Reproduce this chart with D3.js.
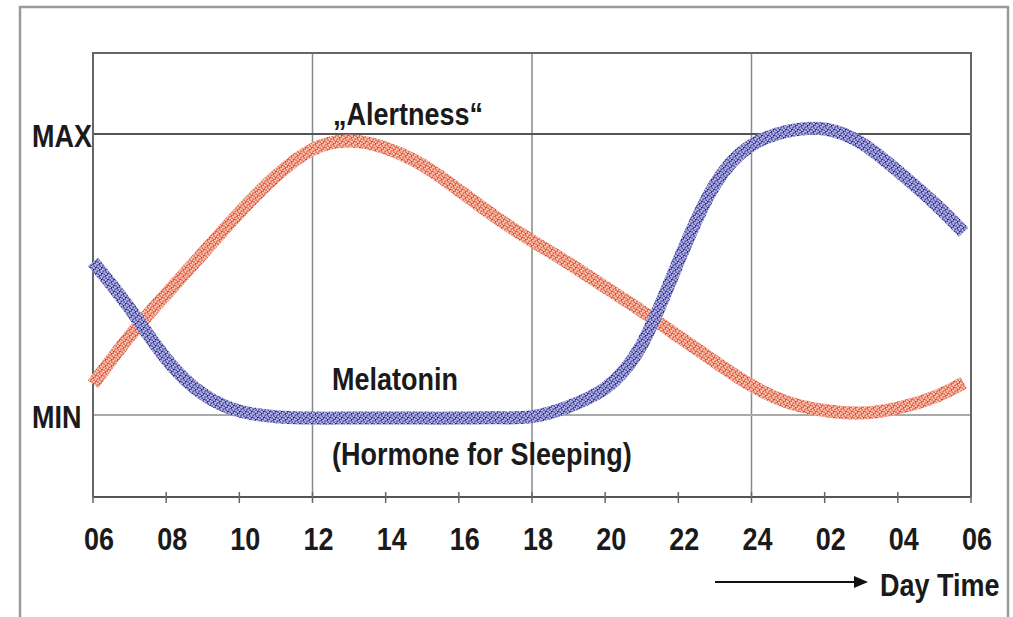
<!DOCTYPE html>
<html>
<head>
<meta charset="utf-8">
<script src="https://cdn.jsdelivr.net/npm/d3@7"></script>
<style>
  html, body { margin: 0; padding: 0; background: #fff; }
  svg { display: block; }
  text { font-family: "Liberation Sans", Arial, sans-serif; font-weight: bold; fill: #1a1a1a; }
</style>
</head>
<body>
<div id="chart"></div>
<script>
(function () {
    'use strict';

    // hours since midnight of day one (06 .. 06 next morning = 6 .. 30)
    var hours = [6, 7, 8, 9, 10, 11, 12, 13, 14, 15, 16, 17, 18, 19, 20, 21, 22, 23, 24, 25, 26, 27, 28, 29, 29.8];

    // 0 = MIN, 1 = MAX
    var alertness = [0.11, 0.28, 0.43, 0.575, 0.72, 0.85, 0.945, 0.975, 0.95, 0.89, 0.80, 0.705, 0.62, 0.54, 0.455, 0.37, 0.28, 0.19, 0.105, 0.045, 0.016, 0.007, 0.025, 0.064, 0.115];
    var melatonin = [0.545, 0.38, 0.20, 0.075, 0.014, -0.006, -0.011, -0.011, -0.011, -0.011, -0.011, -0.010, -0.006, 0.03, 0.095, 0.25, 0.545, 0.82, 0.96, 1.01, 1.018, 0.968, 0.868, 0.754, 0.65];

    var tickHours = [6, 8, 10, 12, 14, 16, 18, 20, 22, 24, 26, 28, 30];
    var tickLabels = ['06', '08', '10', '12', '14', '16', '18', '20', '22', '24', '02', '04', '06'];
    var gridHours = [12, 18, 24];
    var levels = [{ label: 'MAX', value: 1 }, { label: 'MIN', value: 0 }];

    var width = 1013, height = 617;
    var left = 93, right = 971, top = 53, bottom = 497;

    var x = d3.scaleLinear().domain([6, 30]).range([left, right]);
    var y = d3.scaleLinear().domain([0, 1]).range([415, 134]);

    var svg = d3.select('#chart').append('svg')
        .attr('width', width)
        .attr('height', height);

    // speckled stroke textures
    var defs = svg.append('defs');
    function speckle(id, light, dark) {
        var p = defs.append('pattern')
            .attr('id', id)
            .attr('patternUnits', 'userSpaceOnUse')
            .attr('width', 6).attr('height', 6);
        p.append('rect').attr('width', 6).attr('height', 6).attr('fill', light);
        [[0.5, 0.5], [3.5, 1.5], [1.5, 3.5], [4.5, 4.5], [2.5, 0], [0, 2.5], [5, 3], [3, 5]].forEach(function (c) {
            p.append('rect').attr('x', c[0]).attr('y', c[1])
                .attr('width', 1.3).attr('height', 1.3).attr('fill', dark);
        });
    }
    speckle('redDots', '#f6c2b2', '#d9401f');
    speckle('blueDots', '#b4b4e2', '#1f1f8a');

    // outer frame
    svg.append('rect')
        .attr('x', 20).attr('y', 7)
        .attr('width', 988).attr('height', 640)
        .attr('fill', 'none').attr('stroke', '#9a9a9a').attr('stroke-width', 2.5);

    // vertical grid lines
    svg.append('g').selectAll('line').data(gridHours).join('line')
        .attr('x1', function (d) { return x(d); }).attr('x2', function (d) { return x(d); })
        .attr('y1', top).attr('y2', bottom)
        .attr('stroke', '#8a8a8a').attr('stroke-width', 1.5);

    // MAX / MIN level lines
    svg.append('g').selectAll('line').data(levels).join('line')
        .attr('x1', left).attr('x2', right)
        .attr('y1', function (d) { return y(d.value); }).attr('y2', function (d) { return y(d.value); })
        .attr('stroke', function (d) { return d.value === 1 ? '#555' : '#aaa'; })
        .attr('stroke-width', 2);

    // plot box
    svg.append('path')
        .attr('d', 'M' + left + ',' + bottom + 'V' + top + 'H' + right + 'V' + bottom)
        .attr('fill', 'none').attr('stroke', '#666').attr('stroke-width', 2);

    // x axis
    var axis = svg.append('g').attr('transform', 'translate(0,' + bottom + ')');
    axis.append('line').attr('x1', left).attr('x2', right)
        .attr('stroke', '#555').attr('stroke-width', 2);
    axis.selectAll('line.tick').data(tickHours).join('line')
        .attr('class', 'tick')
        .attr('x1', function (d) { return x(d); }).attr('x2', function (d) { return x(d); })
        .attr('y1', -5).attr('y2', 6)
        .attr('stroke', '#666').attr('stroke-width', 1.5);

    function label(sel, tx, ty, txt, anchor) {
        return sel.append('text')
            .attr('transform', 'translate(' + tx + ',' + ty + ') scale(1,1.15)')
            .attr('text-anchor', anchor || 'start')
            .style('font-size', '27px')
            .text(txt);
    }

    tickHours.forEach(function (h, i) {
        label(svg, x(h) + 6, 550, tickLabels[i], 'middle');
    });

    levels.forEach(function (d) {
        label(svg, 32, y(d.value) + 13, d.label);
    });

    // curves
    var line = d3.line()
        .x(function (d) { return x(d[0]); })
        .y(function (d) { return y(d[1]); })
        .curve(d3.curveNatural);

    var series = [
        { values: alertness, fill: 'url(#redDots)' },
        { values: melatonin, fill: 'url(#blueDots)' }
    ];
    series.forEach(function (s) {
        svg.append('path')
            .datum(hours.map(function (h, i) { return [h, s.values[i]]; }))
            .attr('d', line)
            .attr('fill', 'none')
            .attr('stroke', s.fill)
            .attr('stroke-width', 13)
            .attr('stroke-linecap', 'butt');
    });

    // annotations
    label(svg, 333, 125, '\u201EAlertness\u201C');
    label(svg, 332, 390, 'Melatonin');
    label(svg, 332, 465, '(Hormone for Sleeping)');
    label(svg, 880, 596, 'Day Time');

    // Day Time arrow
    svg.append('line')
        .attr('x1', 715).attr('x2', 856).attr('y1', 582).attr('y2', 582)
        .attr('stroke', '#111').attr('stroke-width', 2);
    svg.append('path')
        .attr('d', 'M854,576L868,582L854,588Z')
        .attr('fill', '#111');
})();
</script>
</body>
</html>
